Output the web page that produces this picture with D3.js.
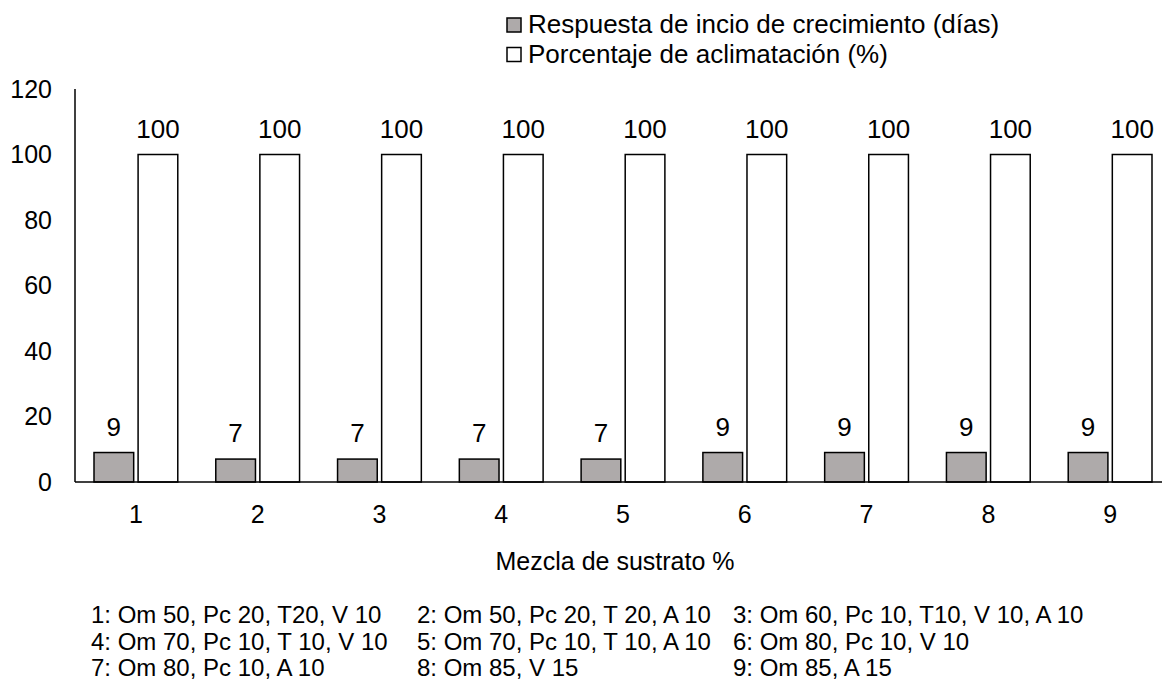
<!DOCTYPE html>
<html>
<head>
<meta charset="utf-8">
<script src="https://cdn.jsdelivr.net/npm/d3@7"></script>
<style>
  html, body { margin: 0; padding: 0; background: #fff; }
  svg { display: block; font-family: "Liberation Sans", Arial, sans-serif; }
</style>
</head>
<body>
<svg id="chart" width="1162" height="679"></svg>
<script>
// Substrate mixtures (x categories)
const categories = ["1", "2", "3", "4", "5", "6", "7", "8", "9"];
// Days until growth starts
const growthDays = [9, 7, 7, 7, 7, 9, 9, 9, 9];
// Acclimatization percentage
const acclimation = [100, 100, 100, 100, 100, 100, 100, 100, 100];
const seriesNames = ["Respuesta de incio de crecimiento (días)", "Porcentaje de aclimatación (%)"];
const yTicks = [0, 20, 40, 60, 80, 100, 120];
// Mixture composition key
const notes = [
  ["1: Om 50, Pc 20, T20, V 10", "2: Om 50, Pc 20, T 20, A 10", "3: Om 60, Pc 10, T10, V 10, A 10"],
  ["4: Om 70, Pc 10, T 10, V 10", "5: Om 70, Pc 10, T 10, A 10", "6: Om 80, Pc 10, V 10"],
  ["7: Om 80, Pc 10, A 10", "8: Om 85, V 15", "9: Om 85, A 15"]
];

const svg = d3.select("#chart");
const plotLeft = 75, plotRight = 1171, plotTop = 89, plotBottom = 482;
const fills = ["#AEAAAA", "#FFFFFF"];

const x = d3.scaleBand().domain(categories).range([plotLeft, plotRight]);
const y = d3.scaleLinear().domain([0, 120]).range([plotBottom, plotTop]);
const inner = d3.scaleBand().domain([0, 1]).range([19, x.bandwidth() - 19]).paddingInner(0.1);

// Vertical axis line (no tick marks)
svg.append("line").attr("x1", plotLeft).attr("x2", plotLeft).attr("y1", y(120)).attr("y2", y(0))
  .attr("stroke", "#000").attr("stroke-width", 1.5);

const gy = svg.append("g").attr("transform", `translate(${plotLeft},0)`)
  .call(d3.axisLeft(y).tickValues(yTicks).tickSize(0).tickPadding(23));
gy.select(".domain").remove();
gy.selectAll("text").attr("font-size", 25).attr("fill", "#000")
  .attr("font-family", "Liberation Sans, Arial, sans-serif");

const gx = svg.append("g").attr("transform", `translate(0,${plotBottom})`)
  .call(d3.axisBottom(x).tickSize(0).tickPadding(23));
gx.select(".domain").remove();
gx.selectAll("text").attr("font-size", 25).attr("fill", "#000")
  .attr("font-family", "Liberation Sans, Arial, sans-serif");

const data = categories.map((c, i) => ({ c, vals: [growthDays[i], acclimation[i]] }));

const groups = svg.append("g").selectAll("g").data(data).join("g")
  .attr("transform", d => `translate(${x(d.c)},0)`);

groups.selectAll("rect").data(d => d.vals.map((v, k) => ({ v, k }))).join("rect")
  .attr("x", d => inner(d.k))
  .attr("width", inner.bandwidth())
  .attr("y", d => y(d.v))
  .attr("height", d => y(0) - y(d.v))
  .attr("fill", d => fills[d.k])
  .attr("stroke", "#000").attr("stroke-width", 1.5);

groups.selectAll("text.val").data(d => d.vals.map((v, k) => ({ v, k }))).join("text")
  .attr("class", "val")
  .attr("x", d => inner(d.k) + inner.bandwidth() / 2)
  .attr("y", d => y(d.v) - 17)
  .attr("text-anchor", "middle")
  .attr("font-size", 26)
  .text(d => d.v);

// Horizontal baseline drawn over the bars
svg.append("line").attr("x1", plotLeft).attr("x2", plotRight).attr("y1", y(0)).attr("y2", y(0))
  .attr("stroke", "#000").attr("stroke-width", 1.5);

// Axis title
svg.append("text").attr("x", 615).attr("y", 570).attr("text-anchor", "middle")
  .attr("font-size", 25).text("Mezcla de sustrato %");

// Legend
const lg = svg.append("g").attr("transform", "translate(507,0)");
seriesNames.forEach((name, k) => {
  const top = 18 + k * 29.5;
  lg.append("rect").attr("x", 0).attr("y", top).attr("width", 14).attr("height", 14)
    .attr("fill", fills[k]).attr("stroke", "#000").attr("stroke-width", 1.5);
  lg.append("text").attr("x", 21).attr("y", top + 15).attr("font-size", 26).text(name);
});

// Mixture composition key
const colX = [91, 417, 733];
notes.forEach((row, r) => {
  row.forEach((t, c) => {
    svg.append("text")
      .attr("x", colX[c]).attr("y", 623 + r * 26.5)
      .attr("font-size", 24)
      .text(t);
  });
});
</script>
</body>
</html>
